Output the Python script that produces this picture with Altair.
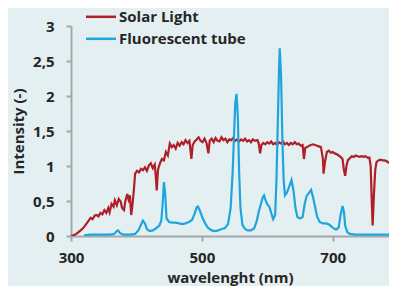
import altair as alt
import pandas as pd

# ---- data ----
solar_nm = [300, 304, 308, 312, 316, 320, 324, 327, 330, 333, 336, 339, 342, 345, 348, 351, 354, 357, 359, 362,
            365, 367, 370, 373, 376, 378, 381, 383, 386, 388, 390, 392, 394, 396, 398, 401, 404, 407, 410, 413,
            416, 419, 422, 425, 428, 430, 431, 433, 436, 439, 442, 445, 448, 451, 454, 457, 460, 463, 466, 469,
            472, 475, 478, 481, 484, 486, 489, 492, 495, 498, 501, 504, 507, 510, 512, 515, 518, 521, 524, 527,
            530, 533, 536, 539, 542, 545, 548, 551, 554, 557, 560, 563, 566, 569, 572, 575, 578, 581, 585, 587,
            589, 591, 594, 597, 600, 603, 606, 609, 612, 615, 618, 621, 624, 627, 630, 633, 636, 639, 642, 645,
            648, 651, 654, 656, 658, 661, 664, 667, 670, 673, 676, 679, 682, 685, 686, 688, 691, 694, 697, 700,
            703, 706, 709, 712, 715, 717, 719, 721, 723, 726, 729, 732, 735, 738, 741, 744, 747, 750, 753, 756,
            758, 760, 761, 763, 765, 767, 770, 773, 776, 779, 782, 785, 788, 791, 794, 797, 800]
solar_val = [0.00, 0.01, 0.03, 0.06, 0.09, 0.13, 0.18, 0.22, 0.26, 0.24, 0.29, 0.30, 0.28, 0.33, 0.31, 0.37, 0.33, 0.40, 0.34, 0.46,
             0.42, 0.51, 0.44, 0.53, 0.49, 0.40, 0.37, 0.50, 0.60, 0.52, 0.58, 0.30, 0.45, 0.65, 0.89, 0.93, 0.91, 0.96, 0.94, 0.98,
             0.93, 1.01, 1.04, 0.97, 1.02, 0.80, 0.65, 0.95, 1.04, 1.10, 1.08, 1.20, 1.15, 1.32, 1.27, 1.30, 1.25, 1.33, 1.29, 1.34,
             1.31, 1.37, 1.33, 1.36, 1.10, 1.30, 1.35, 1.38, 1.41, 1.36, 1.34, 1.39, 1.33, 1.18, 1.36, 1.39, 1.34, 1.40, 1.36, 1.35,
             1.41, 1.37, 1.39, 1.34, 1.38, 1.37, 1.40, 1.36, 1.38, 1.35, 1.38, 1.36, 1.39, 1.35, 1.37, 1.34, 1.38, 1.36, 1.37, 1.32,
             1.18, 1.30, 1.33, 1.31, 1.34, 1.32, 1.35, 1.31, 1.33, 1.30, 1.34, 1.32, 1.35, 1.31, 1.33, 1.30, 1.33, 1.31, 1.34, 1.31,
             1.32, 1.29, 1.30, 1.10, 1.26, 1.27, 1.29, 1.30, 1.31, 1.30, 1.29, 1.28, 1.27, 1.10, 0.89, 1.05, 1.20, 1.22, 1.19, 1.20,
             1.18, 1.17, 1.15, 1.13, 1.10, 0.95, 0.86, 1.00, 1.08, 1.11, 1.14, 1.13, 1.15, 1.14, 1.13, 1.14, 1.13, 1.14, 1.12, 1.12,
             1.00, 0.40, 0.15, 0.60, 0.95, 1.06, 1.08, 1.09, 1.08, 1.08, 1.07, 1.05, 1.04, 1.03, 1.02, 1.02, 1.01]

fluor_nm = [320, 330, 340, 350, 360, 366, 370, 372, 375, 380, 390, 398, 403, 407, 410, 413, 416, 420, 425, 430,
            435, 438, 440, 442, 444, 446, 450, 455, 460, 465, 470, 475, 480, 485, 489, 492, 494, 497, 501, 505,
            510, 515, 520, 525, 530, 535, 540, 544, 547, 549, 551, 553, 555, 557, 559, 562, 566, 570, 575, 580,
            584, 587, 590, 593, 595, 597, 600, 603, 606, 609, 612, 614, 616, 618, 619, 621, 623, 625, 627, 630,
            634, 637, 640, 643, 646, 650, 654, 657, 660, 664, 667, 670, 673, 676, 680, 685, 690, 695, 700, 705,
            709, 712, 715, 717, 719, 722, 726, 735, 750, 770, 785, 795]
fluor_val = [0.01, 0.02, 0.02, 0.02, 0.02, 0.03, 0.07, 0.08, 0.04, 0.02, 0.02, 0.03, 0.08, 0.16, 0.22, 0.18, 0.10, 0.07, 0.08, 0.11,
             0.15, 0.22, 0.45, 0.77, 0.60, 0.25, 0.20, 0.19, 0.19, 0.18, 0.17, 0.18, 0.20, 0.23, 0.32, 0.41, 0.42, 0.36, 0.26, 0.18,
             0.11, 0.08, 0.07, 0.08, 0.10, 0.11, 0.17, 0.40, 0.90, 1.40, 1.90, 2.03, 1.70, 0.90, 0.40, 0.16, 0.10, 0.08, 0.08, 0.11,
             0.22, 0.35, 0.45, 0.55, 0.58, 0.52, 0.45, 0.42, 0.33, 0.24, 0.30, 0.80, 1.60, 2.40, 2.68, 2.30, 1.40, 0.80, 0.58, 0.62,
             0.72, 0.80, 0.65, 0.40, 0.27, 0.25, 0.27, 0.45, 0.57, 0.62, 0.66, 0.55, 0.42, 0.28, 0.20, 0.18, 0.18, 0.16, 0.12, 0.09,
             0.12, 0.30, 0.43, 0.35, 0.15, 0.06, 0.03, 0.02, 0.02, 0.02, 0.02, 0.02]

series = ["Solar Light", "Fluorescent tube"]
colors = ["#b01f28", "#1ea5dd"]
x_ticks = [300, 500, 700]
y_ticks = [0, 0.5, 1, 1.5, 2, 2.5, 3]
x_title = "wavelenght (nm)"
y_title = "Intensity (-)"

FONT = "Open Sans"
TXT = "#262626"
AXC = "#a3a8ab"

solar_df = pd.DataFrame({"nm": solar_nm, "val": solar_val, "series": series[0]})
fluor_df = pd.DataFrame({"nm": fluor_nm, "val": fluor_val, "series": series[1]})

x_enc = alt.X("nm:Q", scale=alt.Scale(domain=[300, 786], nice=False, zero=False),
              axis=alt.Axis(values=x_ticks, title=x_title, grid=False, labelFlush=False,
                            labelPadding=9, titlePadding=5))
y_enc = alt.Y("val:Q", scale=alt.Scale(domain=[0, 3], nice=False),
              axis=alt.Axis(values=y_ticks, title=y_title, grid=False,
                            labelExpr="replace(toString(datum.value), '.', ',')",
                            labelPadding=12, titlePadding=6))

solar = alt.Chart(solar_df).mark_line(color=colors[0], strokeWidth=2.2, clip=True).encode(x=x_enc, y=y_enc)
fluor = alt.Chart(fluor_df).mark_line(color=colors[1], strokeWidth=2.2, clip=True).encode(x=x_enc, y=y_enc)

legend_layers = []
for i, (name, col) in enumerate(zip(series, colors)):
    yy = -9.2 + 22 * i
    legend_layers.append(
        alt.Chart(pd.DataFrame({"label": [name]})).mark_rule(color=col, strokeWidth=2.5).encode(
            x=alt.value(15), x2=alt.value(45), y=alt.value(yy)))
    legend_layers.append(
        alt.Chart(pd.DataFrame({"label": [name]})).mark_text(
            align="left", baseline="middle", font=FONT, fontSize=15, fontWeight="bold", color=TXT
        ).encode(x=alt.value(48), y=alt.value(yy), text="label:N"))

chart = alt.layer(solar, fluor, *legend_layers).properties(
    width=318, height=210,
    autosize=alt.AutoSizeParams(type="none"),
    padding={"left": 63, "top": 18, "right": 0, "bottom": 50},
    background="#e4eff1",
).configure_view(stroke=None).configure_axis(
    labelFont=FONT, labelFontSize=15, labelFontWeight="bold", labelColor=TXT,
    titleFont=FONT, titleFontSize=15, titleFontWeight="bold", titleColor=TXT,
    domainColor=AXC, domainWidth=2, tickColor=AXC, tickWidth=2, tickSize=5,
)

chart.save("out.html", embed_options={"renderer": "svg", "actions": False})
